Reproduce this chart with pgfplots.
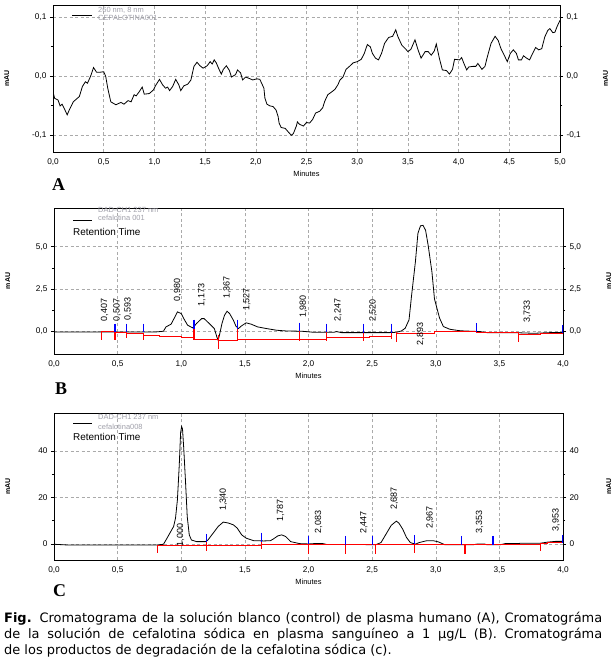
\documentclass[border=0pt]{standalone}
\usepackage{pgfplots}
\pgfplotsset{compat=1.18}
\usepackage{fontspec}
\setmainfont{Liberation Sans}
\newfontfamily\capfont{DejaVu Sans}
\newfontfamily\panelfont{Liberation Serif}

\definecolor{leggray}{RGB}{160,160,170}
\definecolor{gridgray}{RGB}{170,170,170}
\definecolor{intred}{RGB}{255,0,0}
\definecolor{intblue}{RGB}{0,0,255}

\newcommand{\peakfont}{\fontsize{9}{10}\selectfont}
\newcommand{\legfont}{\fontsize{7.5}{8}\selectfont}

\pgfplotsset{
  chrom/.style={
    scale only axis, xmin=0,
    clip mode=individual,
    axis line style={black, line width=0.9bp},
    grid=major,
    grid style={dash pattern=on 3bp off 2.5bp, gridgray, line width=0.5bp},
    xtick style={draw=none},
    ytick pos=left,
    ytick style={black, line width=0.5bp},
    major tick length=3bp, minor tick length=2bp,
    minor y tick num=1,
    tick align=outside,
    tick label style={font=\fontsize{8.3}{9}\selectfont},
    /pgf/number format/assume math mode=true,
    xticklabel style={/pgf/number format/.cd, fixed, fixed zerofill, precision=1, use comma},
    xlabel={Minutes},
    xlabel style={at={(axis description cs:0.5,-0.15)}, anchor=center, font=\fontsize{7.5}{8}\selectfont},
    ylabel={mAU},
    ylabel style={at={(axis description cs:-0.091,0.5)}, anchor=center, font=\fontsize{7}{8}\selectfont\bfseries},
  },
  chromright/.style={
    scale only axis, xmin=0,
    hide x axis, axis y line*=right,
    axis line style={draw=none},
    ytick style={black, line width=0.5bp},
    major tick length=3bp, minor tick length=2bp,
    minor y tick num=1,
    tick align=outside,
    tick label style={font=\fontsize{8.3}{9}\selectfont},
    /pgf/number format/assume math mode=true,
    ylabel={mAU},
    ylabel style={at={(axis description cs:1.09,0.5)}, anchor=center, font=\fontsize{7}{8}\selectfont\bfseries},
  },
  signal/.style={black, line width=0.8bp},
  baseline/.style={intred, line width=1bp, const plot, unbounded coords=jump},
  redmark/.style={intred, line width=1.1bp, unbounded coords=jump},
  bluemark/.style={intblue, line width=1.1bp, unbounded coords=jump},
}

\begin{document}
\begin{tikzpicture}
\path[use as bounding box] (0,0) rectangle (616bp,663bp);

% ---------------- A ----------------
\begin{axis}[chrom, at={(53bp,511bp)}, anchor=south west,
  width=507bp, height=147bp, xmax=5, ymin=-0.129, ymax=0.12,
  xtick={0,0.5,...,5}, ytick={-0.1,0,0.1},
  yticklabel style={/pgf/number format/.cd, fixed, fixed zerofill, precision=1, use comma}]
\addplot[signal] coordinates {
(0,-0.027)(0.016,-0.038)(0.05,-0.041)(0.07,-0.051)(0.09,-0.048)(0.11,-0.055)(0.14,-0.066)(0.16,-0.058)
(0.2,-0.044)(0.24,-0.038)(0.26,-0.035)(0.29,-0.018)(0.32,-0.010)(0.34,-0.0125)(0.37,-0.001)(0.40,0.014)
(0.43,0.006)(0.46,0.006)(0.50,0.007)(0.52,-0.001)(0.54,-0.021)(0.57,-0.044)(0.62,-0.049)(0.67,-0.045)
(0.70,-0.048)(0.74,-0.042)(0.77,-0.044)(0.80,-0.032)(0.82,-0.034)(0.85,-0.027)(0.88,-0.019)(0.90,-0.031)
(0.95,-0.030)(0.99,-0.024)(1.01,-0.017)(1.05,-0.006)(1.08,-0.015)(1.11,-0.021)(1.13,-0.019)(1.15,-0.025)
(1.18,-0.018)(1.21,-0.006)(1.24,-0.015)(1.26,-0.025)(1.29,-0.017)(1.33,-0.014)(1.36,-0.007)(1.39,0.016)
(1.42,0.023)(1.45,0.017)(1.48,0.013)(1.52,0.017)(1.55,0.024)(1.57,0.020)(1.59,0.027)(1.61,0.022)
(1.64,0.010)(1.66,0.003)(1.68,0.011)(1.71,0.017)(1.74,0.009)(1.76,-0.002)(1.80,0.002)(1.82,0.010)
(1.85,0.005)(1.87,-0.007)(1.90,-0.002)(1.93,-0.004)(1.97,-0.007)(2.01,-0.005)(2.04,-0.006)(2.08,-0.021)
(2.09,-0.038)(2.11,-0.048)(2.14,-0.051)(2.17,-0.052)(2.20,-0.058)(2.22,-0.069)(2.23,-0.080)(2.25,-0.0875)
(2.29,-0.089)(2.32,-0.095)(2.35,-0.1006)(2.37,-0.098)(2.40,-0.085)(2.41,-0.078)(2.43,-0.082)(2.47,-0.085)
(2.50,-0.079)(2.53,-0.080)(2.56,-0.074)(2.59,-0.063)(2.63,-0.060)(2.66,-0.054)(2.68,-0.043)(2.71,-0.032)
(2.75,-0.027)(2.78,-0.023)(2.81,-0.015)(2.83,-0.007)(2.86,-0.002)(2.89,0.011)(2.93,0.017)(2.96,0.022)
(3.00,0.024)(3.04,0.028)(3.07,0.038)(3.10,0.053)(3.13,0.049)(3.15,0.038)(3.18,0.030)(3.21,0.027)
(3.24,0.038)(3.27,0.055)(3.31,0.065)(3.35,0.067)(3.38,0.078)(3.40,0.067)(3.44,0.052)(3.48,0.045)
(3.50,0.041)(3.53,0.045)(3.57,0.061)(3.60,0.044)(3.63,0.030)(3.67,0.041)(3.70,0.041)(3.73,0.035)
(3.76,0.042)(3.78,0.054)(3.81,0.030)(3.84,0.010)(3.88,0.009)(3.91,0.003)(3.94,0.011)(3.96,0.028)
(4.01,0.027)(4.03,0.031)(4.05,0.022)(4.08,0.010)(4.10,0.015)(4.14,0.016)(4.17,0.016)(4.19,0.021)
(4.23,0.011)(4.26,0.016)(4.28,0.030)(4.32,0.055)(4.36,0.067)(4.39,0.060)(4.42,0.045)(4.45,0.035)
(4.48,0.024)(4.51,0.038)(4.54,0.044)(4.57,0.038)(4.59,0.027)(4.62,0.027)(4.64,0.034)(4.67,0.030)
(4.70,0.027)(4.73,0.038)(4.76,0.048)(4.79,0.044)(4.82,0.046)(4.85,0.066)(4.88,0.077)(4.90,0.080)
(4.93,0.073)(4.95,0.074)(4.97,0.083)(5.00,0.094)
};
\end{axis}
\begin{axis}[chromright, at={(53bp,511bp)}, anchor=south west,
  width=507bp, height=147bp, xmax=5, ymin=-0.129, ymax=0.12, ytick={-0.1,0,0.1},
  yticklabel style={/pgf/number format/.cd, fixed, fixed zerofill, precision=1, use comma}]
\addplot[draw=none] coordinates {(0,0)};
\end{axis}

% ---------------- B ----------------
\begin{axis}[chrom, at={(54bp,309bp)}, anchor=south west,
  width=509bp, height=146bp, xmax=4, ymin=-1.37, ymax=7.3,
  xtick={0,0.5,...,4}, ytick={0,2.5,5},
  yticklabel style={/pgf/number format/.cd, fixed, fixed zerofill, precision=1, use comma}]
\addplot[signal] coordinates {
(0,-0.06)(0.80,-0.06)(0.86,-0.02)(0.88,0.24)(0.92,0.40)(0.95,0.83)(0.97,1.13)(1.00,1.03)(1.02,0.73)
(1.05,0.34)(1.09,0.18)(1.12,0.44)(1.16,0.73)(1.18,0.73)(1.22,0.44)(1.26,0.14)(1.28,-0.36)(1.29,-0.56)
(1.30,-0.26)(1.32,0.44)(1.34,0.93)(1.36,1.17)(1.38,1.03)(1.41,0.63)(1.43,0.28)(1.45,0.14)(1.47,0.28)
(1.51,0.48)(1.55,0.40)(1.60,0.24)(1.67,0.14)(1.75,0.04)(1.82,0.0)(1.95,-0.02)(2.04,-0.08)(2.20,-0.08)
(2.22,-0.04)(2.26,-0.1)(2.64,-0.1)(2.69,-0.08)(2.73,0.0)(2.76,0.16)(2.79,0.66)(2.81,2.1)(2.84,4.1)
(2.86,5.8)(2.88,6.24)(2.90,6.27)(2.92,5.98)(2.94,5.1)(2.97,3.5)(2.99,1.9)(3.03,0.76)(3.06,0.26)
(3.11,0.1)(3.18,0.02)(3.22,0.0)(3.35,-0.04)(3.40,-0.1)(3.61,-0.1)(3.77,-0.14)(3.90,-0.1)(4.0,-0.1)
};
\addplot[baseline] coordinates {
(0.372,-0.06)(0.479,-0.12)(0.568,-0.18)(0.704,-0.26)(0.83,-0.32)(1.0,-0.38)(1.10,-0.48)(1.296,-0.56)
(1.445,-0.52)(1.80,-0.48)(2.14,-0.42)(2.48,-0.36)(2.65,-0.36)(2.67,nan)
(2.69,-0.14)(2.99,-0.04)(3.32,-0.08)(3.65,-0.22)(3.82,-0.18)(4.0,-0.18)
};
\addplot[redmark] coordinates {
(0.372,-0.06)(0.372,-0.56)(0.4,nan)(0.479,-0.06)(0.479,-0.52)(0.5,nan)(0.568,-0.12)(0.568,-0.40)(0.6,nan)
(0.704,-0.18)(0.704,-0.56)(0.75,nan)(1.10,0.14)(1.10,-0.56)(1.2,nan)(1.296,-0.26)(1.296,-1.06)(1.35,nan)
(1.445,0.14)(1.445,-0.62)(1.5,nan)(1.93,0.0)(1.93,-0.6)(2.0,nan)(2.14,-0.08)(2.14,-0.62)(2.2,nan)
(2.43,-0.1)(2.43,-0.62)(2.5,nan)(2.65,-0.1)(2.65,-0.5)(2.67,nan)(2.69,-0.08)(2.69,-0.66)(2.7,nan)
(3.65,-0.1)(3.65,-0.66)
};
\addplot[bluemark] coordinates {
(0.479,0.44)(0.479,-0.06)(0.5,nan)(0.568,0.44)(0.568,-0.06)(0.6,nan)(0.704,0.44)(0.704,-0.06)(0.75,nan)
(1.10,0.67)(1.10,0.14)(1.2,nan)(1.445,0.67)(1.445,0.14)(1.5,nan)(1.93,0.5)(1.93,0.0)(2.0,nan)
(2.14,0.44)(2.14,-0.08)(2.2,nan)(2.43,0.44)(2.43,-0.1)(2.5,nan)(2.65,0.44)(2.65,-0.1)(2.67,nan)
(3.32,0.46)(3.32,-0.04)(3.4,nan)(4.0,0.36)(4.0,-0.1)
};
\begin{scope}[every node/.style={rotate=90, anchor=west, inner sep=0.5bp, font=\peakfont}]
\node at (axis cs:0.397,0.54) {0,407};
\node at (axis cs:0.495,0.54) {0,507};
\node at (axis cs:0.583,0.60) {0,593};
\node at (axis cs:0.972,1.73) {0,980};
\node at (axis cs:1.162,1.43) {1,173};
\node at (axis cs:1.360,1.87) {1,367};
\node at (axis cs:1.516,1.17) {1,527};
\node at (axis cs:1.960,0.73) {1,980};
\node at (axis cs:2.232,0.54) {2,247};
\node at (axis cs:2.508,0.50) {2,520};
\node at (axis cs:2.880,-0.90) {2,893};
\node at (axis cs:3.720,0.46) {3,733};
\end{scope}
\end{axis}
\begin{axis}[chromright, at={(54bp,309bp)}, anchor=south west,
  width=509bp, height=146bp, xmax=4, ymin=-1.37, ymax=7.3, ytick={0,2.5,5},
  yticklabel style={/pgf/number format/.cd, fixed, fixed zerofill, precision=1, use comma}]
\addplot[draw=none] coordinates {(0,0)};
\end{axis}

% ---------------- C ----------------
\begin{axis}[chrom, at={(54bp,103bp)}, anchor=south west,
  width=509bp, height=147bp, xmax=4, ymin=-6.9, ymax=56.3,
  xtick={0,0.5,...,4}, ytick={0,20,40}]
\addplot[signal] coordinates {
(0,-0.14)(0.10,-0.43)(0.81,-0.43)(0.86,-0.14)(0.88,1.7)(0.91,4.6)(0.94,7.5)(0.955,11.1)(0.97,19.1)
(0.984,33.5)(0.995,47.9)(1.003,50.5)(1.01,49.4)(1.02,40.7)(1.034,26.3)(1.047,11.8)(1.063,3.9)(1.08,1.7)
(1.12,1.0)(1.19,1.0)(1.21,1.7)(1.25,4.6)(1.29,7.5)(1.33,9.4)(1.37,9.0)(1.41,8.2)(1.44,6.8)(1.475,3.9)
(1.51,2.5)(1.57,1.4)(1.65,1.3)(1.70,1.4)(1.72,2.0)(1.76,3.5)(1.79,3.9)(1.82,3.2)(1.86,1.0)(1.93,0.14)
(2.0,0)(2.06,0.2)(2.11,0.2)(2.14,-0.2)(2.53,-0.3)(2.57,0.6)(2.61,4.3)(2.65,8.0)(2.69,9.8)(2.71,9.0)
(2.74,6.4)(2.77,2.8)(2.80,0.6)(2.84,-0.1)(2.87,0.6)(2.93,1.4)(2.98,1.4)(3.02,0.9)(3.07,-0.3)(3.30,-0.3)
(3.33,0.0)(3.38,0.0)(3.40,-0.3)(3.51,-0.3)(3.55,0.2)(3.65,0.2)(3.67,0.3)(3.82,0.3)(3.88,0.8)(3.94,1.1)
(4.0,1.1)
};
\addplot[baseline] coordinates {
(0.81,-0.7)(1.63,-0.4)(3.82,0.1)(3.88,0.7)(4.0,0.7)
};
\addplot[redmark] coordinates {
(0.81,-0.7)(0.81,-4.0)(0.9,nan)(1.20,1.0)(1.20,-2.9)(1.3,nan)(1.63,0.9)(1.63,-2.3)(1.7,nan)
(2.0,0)(2.0,-4.3)(2.1,nan)(2.29,-0.4)(2.29,-4.3)(2.3,nan)(2.53,-0.4)(2.53,-4.3)(2.6,nan)
(2.83,0.0)(2.83,-3.9)(2.9,nan)(3.23,-0.4)(3.23,-4.3)(3.3,nan)(3.82,0.4)(3.82,-3.2)
};
\addplot[bluemark] coordinates {
(1.20,4.3)(1.20,1.0)(1.3,nan)(1.63,4.9)(1.63,0.9)(1.7,nan)(2.0,3.5)(2.0,0)(2.1,nan)
(2.29,3.5)(2.29,-0.4)(2.3,nan)(2.50,3.5)(2.50,-0.4)(2.6,nan)(2.83,3.9)(2.83,0.0)(2.9,nan)
(3.20,3.5)(3.20,-0.4)(3.3,nan)(3.45,3.5)(3.45,-0.4)(3.5,nan)(4.0,4.0)(4.0,0.4)
};
\begin{scope}[every node/.style={rotate=90, anchor=west, inner sep=0.5bp, font=\peakfont}]
\node at (axis cs:0.995,-1.2) {1,000};
\node at (axis cs:1.330,14.0) {1,340};
\node at (axis cs:1.780,9.2) {1,787};
\node at (axis cs:2.080,4.3) {2,083};
\node at (axis cs:2.435,4.0) {2,447};
\node at (axis cs:2.675,14.5) {2,687};
\node at (axis cs:2.955,6.2) {2,967};
\node at (axis cs:3.345,4.3) {3,353};
\node at (axis cs:3.945,5.2) {3,953};
\end{scope}
\end{axis}
\begin{axis}[chromright, at={(54bp,103bp)}, anchor=south west,
  width=509bp, height=147bp, xmax=4, ymin=-6.9, ymax=56.3, ytick={0,20,40}]
\addplot[draw=none] coordinates {(0,0)};
\end{axis}

% legends
\draw[black, line width=0.8bp] (72bp,647.3bp) -- (92bp,647.3bp);
\node[anchor=west, inner sep=0, text=leggray, font=\legfont] at (98bp,653bp) {260 nm, 8 nm};
\node[anchor=west, inner sep=0, text=leggray, font=\legfont] at (98bp,645bp) {CEPALOTINA001};

\draw[black, line width=0.8bp] (73bp,443bp) -- (92bp,443bp);
\node[anchor=west, inner sep=0, text=leggray, font=\legfont] at (98bp,453bp) {DAD-CH1 237 nm};
\node[anchor=west, inner sep=0, text=leggray, font=\legfont] at (98bp,445bp) {cefalotina 001};
\node[anchor=west, inner sep=0, font=\fontsize{10}{11}\selectfont] at (73bp,431bp) {Retention Time};

\draw[black, line width=0.8bp] (73bp,239.7bp) -- (92bp,239.7bp);
\node[anchor=west, inner sep=0, text=leggray, font=\legfont] at (98bp,245.7bp) {DAD-CH1 237 nm};
\node[anchor=west, inner sep=0, text=leggray, font=\legfont] at (98bp,236.3bp) {cefalotina008};
\node[anchor=west, inner sep=0, font=\fontsize{10}{11}\selectfont] at (73bp,226.3bp) {Retention Time};

% panel letters
\node[anchor=base west, inner sep=0, font=\panelfont\bfseries\fontsize{18}{18}\selectfont] at (52bp,472bp) {A};
\node[anchor=base west, inner sep=0, font=\panelfont\bfseries\fontsize{18}{18}\selectfont] at (55bp,268bp) {B};
\node[anchor=base west, inner sep=0, font=\panelfont\bfseries\fontsize{18}{18}\selectfont] at (53bp,66bp) {C};

% caption (justified lines)
\node[anchor=base west, inner sep=0, font=\capfont\fontsize{13}{16}\selectfont] at (4bp,40.7bp)
  {\makebox[598bp][s]{\textbf{Fig.} Cromatograma de la solución blanco (control) de plasma humano (A), Cromatográma}};
\node[anchor=base west, inner sep=0, font=\capfont\fontsize{13}{16}\selectfont] at (4bp,24.7bp)
  {\makebox[598bp][s]{de la solución de cefalotina sódica en plasma sanguíneo a 1 µg/L (B). Cromatográma}};
\node[anchor=base west, inner sep=0, font=\capfont\fontsize{13}{16}\selectfont] at (4bp,9bp)
  {de los productos de degradación de la cefalotina sódica (c).};
\end{tikzpicture}
\end{document}
